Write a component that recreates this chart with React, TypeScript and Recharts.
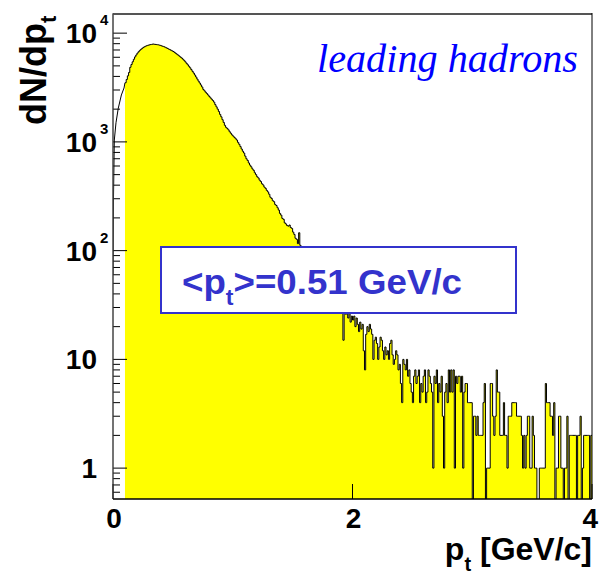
import React from 'react';
import { ComposedChart, Area, Line, XAxis, YAxis } from 'recharts';

// Histogram: bins of width 0.01 GeV/c starting at 0.10
const BIN_START = 0.1;
const BIN_WIDTH = 0.01;

// 0.10 - 0.99
const countsPeak: number[] = [
  3500, 3750, 4050, 4350, 4850, 5150, 5450, 5750, 6050, 6300,
  6550, 6750, 6950, 7100, 7250, 7400, 7500, 7600, 7680, 7750,
  7800, 7850, 7880, 7950, 7900, 7880, 7850, 7820, 7780, 7720,
  7650, 7580, 7520, 7430, 7340, 7250, 7150, 7060, 6960, 6870,
  6780, 6650, 6520, 6400, 6280, 6150, 6020, 5900, 5760, 5620,
  5450, 5280, 5120, 4960, 4800, 4620, 4450, 4290, 4120, 3950,
  3780, 3620, 3480, 3340, 3200, 3040, 2950, 2860, 2780, 2700,
  2620, 2540, 2470, 2400, 2320, 2200, 2100, 2000, 1900, 1790,
  1700, 1600, 1510, 1420, 1360, 1330, 1290, 1240, 1200, 1160,
];

// 1.00 - 1.89
const countsFall: number[] = [
  1130, 1100, 1070, 1040, 990, 950, 905, 860, 820, 790,
  740, 700, 675, 640, 612, 590, 565, 548, 520, 500,
  478, 466, 445, 432, 412, 402, 384, 374, 358, 347,
  330, 310, 302, 288, 282, 266, 260, 248, 236, 220,
  212, 198, 194, 180, 176, 170, 168, 172, 163, 160,
  148, 141, 130, 127, 116, 146, 112, 109, 103, 100,
  97, 93, 91, 85, 83, 78, 76, 71, 70, 65,
  63, 59, 58, 54, 53, 49, 48, 45, 44, 41,
  40, 37, 38, 34, 35, 31, 32, 29, 30, 27,
];

// 1.90 - 3.99
const countsTail: number[] = [
  27, 29, 15, 30, 26, 28, 24, 27, 22, 25,
  23, 25, 20, 24, 21, 18, 22, 19, 21, 12,
  8, 17, 20, 18, 21, 19, 17, 10, 15, 16,
  14, 10, 13, 16, 15, 12, 10, 13, 11, 12,
  10, 14, 15, 11, 9, 10, 12, 11, 8, 9,
  6, 4, 10, 9, 8, 10, 7, 8, 6, 5,
  4, 7, 8, 6, 7, 8, 4, 6, 5, 7,
  8, 4, 5, 8, 7, 6, 5, 1, 7, 6,
  8, 4, 6, 5, 7, 3, 1, 5, 6, 4,
  8, 5, 8, 5, 8, 1, 7, 6, 7, 7,
  5, 7, 1, 5, 6, 6, 4, 4, 4, 4,
  0, 3, 3, 2, 3, 2, 2, 2, 2, 4,
  6, 0, 1, 1, 1, 6, 6, 3, 2, 3,
  8, 5, 5, 2, 2, 2, 4, 2, 2, 1,
  3, 3, 3, 4, 4, 4, 4, 3, 3, 3,
  3, 2, 1, 2, 1, 2, 3, 3, 1, 1,
  3, 2, 1, 1, 0, 0, 1, 1, 1, 1,
  1, 6, 4, 4, 4, 3, 3, 2, 4, 0,
  1, 1, 3, 3, 1, 1, 0, 1, 1, 3,
  0, 2, 2, 2, 2, 2, 2, 0, 2, 2,
  3, 0, 1, 2, 2, 2, 2, 2, 0, 2,
];

// unfilled rising edge below 0.1 GeV/c
const riseX: number[] = [0, 0.004, 0.011, 0.025, 0.044, 0.07, 0.092, 0.1];
const riseY: number[] = [60, 300, 1040, 1500, 2040, 2700, 3130, 3500];

const xTicks: number[] = [0, 2, 4];
const yDecades: number[] = [1, 10, 100, 1000, 10000];
const yMinorFactors: number[] = [2, 3, 4, 5, 6, 7, 8, 9];
const Y_MIN = 0.52;
const Y_MAX = 15000;

const counts = [...countsPeak, ...countsFall, ...countsTail];
const histRows = counts.map((c, i) => ({
  x: Math.round((BIN_START + i * BIN_WIDTH) * 100) / 100,
  h: c > 0 ? c : 0.1,
}));
const rows: { x: number; h?: number; r?: number }[] = [
  ...riseX.map((x, i) => ({ x, r: riseY[i] })),
  ...histRows,
  { x: 4, h: histRows[histRows.length - 1].h },
];

const yTicks: number[] = [];
[0.1, ...yDecades].forEach((d) => {
  [1, ...yMinorFactors].forEach((f) => {
    const v = Math.round(d * f * 1000) / 1000;
    if (v >= Y_MIN && v <= Y_MAX) yTicks.push(v);
  });
});
yTicks.sort((a, b) => a - b);

const SANS = '"Liberation Sans", Arial, Helvetica, sans-serif';
const SERIF = '"Liberation Serif", "Times New Roman", serif';

const YTick = (props: any) => {
  const { x, y, payload } = props;
  const v: number = payload.value;
  const exp = Math.round(Math.log10(v));
  const major = Math.abs(Math.log10(v) - exp) < 1e-6 && yDecades.includes(Math.pow(10, exp));
  const len = major ? 14 : 7;
  return (
    <g>
      <line x1={x} x2={x + len} y1={y} y2={y} stroke="#000" strokeWidth={1} />
      {major && exp <= 1 && (
        <text x={x - 16} y={y + 10} textAnchor="end" fontFamily={SANS} fontWeight="bold" fontSize={28} fill="#000">
          {exp === 0 ? '1' : '10'}
        </text>
      )}
      {major && exp > 1 && (
        <g>
          <text x={x - 16} y={y + 10} textAnchor="end" fontFamily={SANS} fontWeight="bold" fontSize={28} fill="#000">
            10
          </text>
          <text x={x - 13} y={y - 8} textAnchor="start" fontFamily={SANS} fontWeight="bold" fontSize={15} fill="#000">
            {exp}
          </text>
        </g>
      )}
    </g>
  );
};

const XTick = (props: any) => {
  const { x, y, payload } = props;
  const last = payload.value === xTicks[xTicks.length - 1];
  return (
    <g>
      <line x1={x} x2={x} y1={y} y2={y - 15} stroke="#000" strokeWidth={1} />
      <text
        x={last ? x + 6 : x + 1}
        y={y + 29}
        textAnchor={last ? 'end' : 'middle'}
        fontFamily={SANS}
        fontWeight="bold"
        fontSize={28}
        fill="#000"
      >
        {payload.value}
      </text>
    </g>
  );
};

export default function App() {
  return (
    <div style={{ position: 'absolute', left: 0, top: 0, width: 599, height: 576, background: '#fff' }}>
      <ComposedChart
        width={599}
        height={576}
        data={rows}
        margin={{ top: 14, right: 7, bottom: 76, left: 112 }}
      >
        <Area
          dataKey="h"
          type="stepAfter"
          stroke="#000"
          strokeWidth={1}
          fill="#ffff00"
          fillOpacity={1}
          dot={false}
          activeDot={false}
          isAnimationActive={false}
        />
        <Line
          dataKey="r"
          type="linear"
          stroke="#000"
          strokeWidth={1}
          dot={false}
          activeDot={false}
          isAnimationActive={false}
        />
        <XAxis
          dataKey="x"
          type="number"
          domain={[0, 4]}
          ticks={xTicks}
          interval={0}
          allowDataOverflow
          height={1}
          tickSize={0}
          tickMargin={0}
          tickLine={false}
          axisLine={{ stroke: '#000', strokeWidth: 1 }}
          tick={<XTick />}
        />
        <YAxis
          type="number"
          scale="log"
          domain={[Y_MIN, Y_MAX]}
          ticks={yTicks}
          interval={0}
          allowDataOverflow
          width={1}
          tickSize={0}
          tickMargin={0}
          tickLine={false}
          axisLine={{ stroke: '#444', strokeWidth: 1 }}
          tick={<YTick />}
        />
      </ComposedChart>
      <svg
        width={599}
        height={576}
        style={{ position: 'absolute', left: 0, top: 0, pointerEvents: 'none' }}
      >
        {/* frame */}
        <line x1={113} x2={592} y1={14} y2={14} stroke="#555" strokeWidth={2} />
        <line x1={592} x2={592} y1={13} y2={499} stroke="#000" strokeWidth={1} />
        <line x1={113} x2={113} y1={13} y2={499} stroke="#444" strokeWidth={1} />
        <line x1={113} x2={592} y1={499} y2={499} stroke="#000" strokeWidth={1} />
        {/* annotation box */}
        <rect x={161} y={247} width={355} height={66} fill="#fff" stroke="#3333cc" strokeWidth={2} />
        <text
          x={182}
          y={294}
          fontFamily={SANS}
          fontWeight="bold"
          fontSize={35}
          fill="#3333cc"
          textLength={280}
          lengthAdjust="spacingAndGlyphs"
        >
          {'<p'}
          <tspan fontSize={22} dy={11}>t</tspan>
          <tspan dy={-11}>{'>=0.51 GeV/c'}</tspan>
        </text>
        <text x={317} y={72} fontFamily={SERIF} fontStyle="italic" fontSize={40} fill="#0000ff" textLength={261} lengthAdjust="spacingAndGlyphs">
          leading hadrons
        </text>
        {/* axis titles */}
        <text
          x={0}
          y={0}
          transform="translate(46,125) rotate(-90)"
          fontFamily={SANS}
          fontWeight="bold"
          fontSize={36}
          fill="#000"
        >
          dN/dp
          <tspan fontSize={22} dy={10}>t</tspan>
        </text>
        <text x={592} y={560} textAnchor="end" fontFamily={SANS} fontWeight="bold" fontSize={32} fill="#000">
          p
          <tspan fontSize={20} dy={11}>t</tspan>
          <tspan dy={-11}> [GeV/c]</tspan>
        </text>
      </svg>
    </div>
  );
}
